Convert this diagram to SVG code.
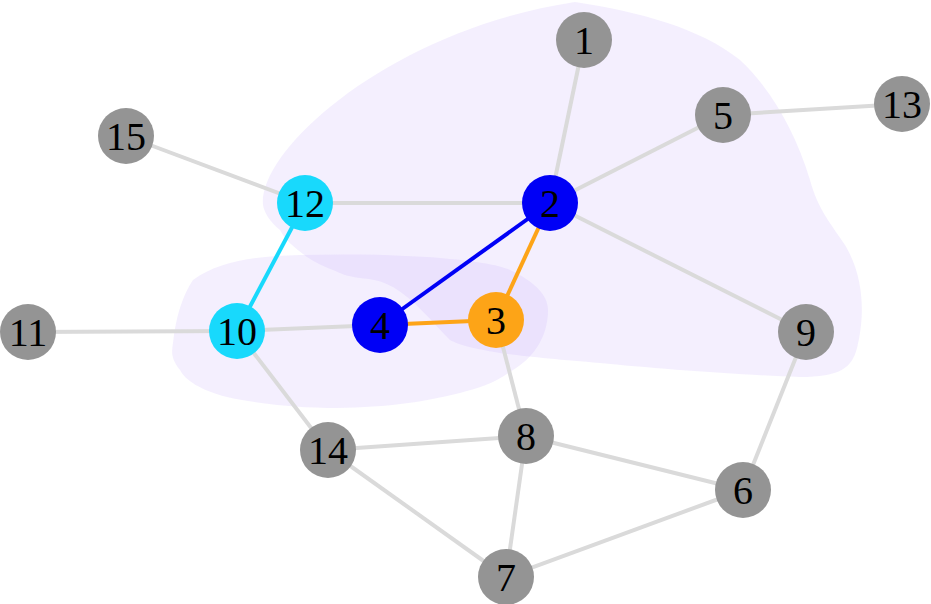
<svg xmlns="http://www.w3.org/2000/svg" width="931" height="604" viewBox="0 0 931 604">
<style>
.blob{fill:#c8b0fa;fill-opacity:0.2;stroke:none}
.e{stroke:#dadada;stroke-width:4;fill:none}
.gray{fill:#949494}
.blue{fill:#0000f6}
.cyan{fill:#18d9fc}
.orange{fill:#fda417}
text{font-family:"Liberation Serif","DejaVu Serif",serif;font-size:40px;fill:#000;text-anchor:middle}
</style>
<rect width="931" height="604" fill="#fff"/>
<g id="hulls">
<path class="blob" d="M263,205 C258,150 390,30 575,2 C640,12 700,28 740,60 C770,88 795,130 810,180 C818,210 832,225 845,245 C866,280 864,320 857,348 C852,368 840,377 800,377 C740,375 650,368 600,363 C560,360 520,356 500,353 C470,348 460,345 450,340 C430,320 415,300 393,287 C380,280 370,279 360,278 C345,276 340,273 333,270 C320,265 315,262 307,257 C295,248 285,240 280,230 C270,222 264,212 263,205 Z"/>
<path class="blob" d="M193,280 C220,260 260,256 300,255 C340,254 380,254 427,257 C470,260 500,265 510,270 C535,282 548,295 548,310 C548,340 530,360 513,370 C495,383 480,388 460,393 C420,403 380,408 327,408 C280,407 250,402 227,397 C200,390 185,380 180,370 C170,358 172,350 173,343 C176,315 183,295 193,280 Z"/>
</g>
<g id="connectors">
<line class="e" x1="584" y1="40" x2="550" y2="203"/>
<line class="e" x1="550" y1="203" x2="723" y2="115"/>
<line class="e" x1="723" y1="115" x2="902" y2="104"/>
<line class="e" x1="550" y1="203" x2="305" y2="203"/>
<line class="e" x1="550" y1="203" x2="806" y2="332"/>
<line class="e" x1="305" y1="203" x2="126" y2="136"/>
<line class="e" x1="237" y1="331" x2="28" y2="332"/>
<line class="e" x1="237" y1="331" x2="380" y2="325"/>
<line class="e" x1="237" y1="331" x2="328" y2="450"/>
<line class="e" x1="496" y1="320" x2="526" y2="436"/>
<line class="e" x1="526" y1="436" x2="328" y2="450"/>
<line class="e" x1="526" y1="436" x2="743" y2="490"/>
<line class="e" x1="526" y1="436" x2="506" y2="577"/>
<line class="e" x1="328" y1="450" x2="506" y2="577"/>
<line class="e" x1="506" y1="577" x2="743" y2="490"/>
<line class="e" x1="743" y1="490" x2="806" y2="332"/>
<line x1="550" y1="203" x2="380" y2="325" stroke="#0000f6" stroke-width="4"/>
<line x1="550" y1="203" x2="496" y2="320" stroke="#fda417" stroke-width="4"/>
<line x1="380" y1="325" x2="496" y2="320" stroke="#fda417" stroke-width="4"/>
<line x1="305" y1="203" x2="237" y2="331" stroke="#18d9fc" stroke-width="4"/>
</g>
<g id="n1"><circle class="gray" cx="584" cy="40" r="28"/><text x="584" y="54">1</text></g>
<g id="n2"><circle class="blue" cx="550" cy="203" r="28"/><text x="550" y="217">2</text></g>
<g id="n3"><circle class="orange" cx="496" cy="320" r="28"/><text x="496" y="334">3</text></g>
<g id="n4"><circle class="blue" cx="380" cy="325" r="28"/><text x="380" y="339">4</text></g>
<g id="n5"><circle class="gray" cx="723" cy="115" r="28"/><text x="723" y="129">5</text></g>
<g id="n6"><circle class="gray" cx="743" cy="490" r="28"/><text x="743" y="504">6</text></g>
<g id="n7"><circle class="gray" cx="506" cy="577" r="28"/><text x="506" y="591">7</text></g>
<g id="n8"><circle class="gray" cx="526" cy="436" r="28"/><text x="526" y="450">8</text></g>
<g id="n9"><circle class="gray" cx="806" cy="332" r="28"/><text x="806" y="346">9</text></g>
<g id="n10"><circle class="cyan" cx="237" cy="331" r="28"/><text x="237" y="345">10</text></g>
<g id="n11"><circle class="gray" cx="28" cy="332" r="28"/><text x="28" y="346">11</text></g>
<g id="n12"><circle class="cyan" cx="305" cy="203" r="28"/><text x="305" y="217">12</text></g>
<g id="n13"><circle class="gray" cx="902" cy="104" r="28"/><text x="902" y="118">13</text></g>
<g id="n14"><circle class="gray" cx="328" cy="450" r="28"/><text x="328" y="464">14</text></g>
<g id="n15"><circle class="gray" cx="126" cy="136" r="28"/><text x="126" y="150">15</text></g>
</svg>
